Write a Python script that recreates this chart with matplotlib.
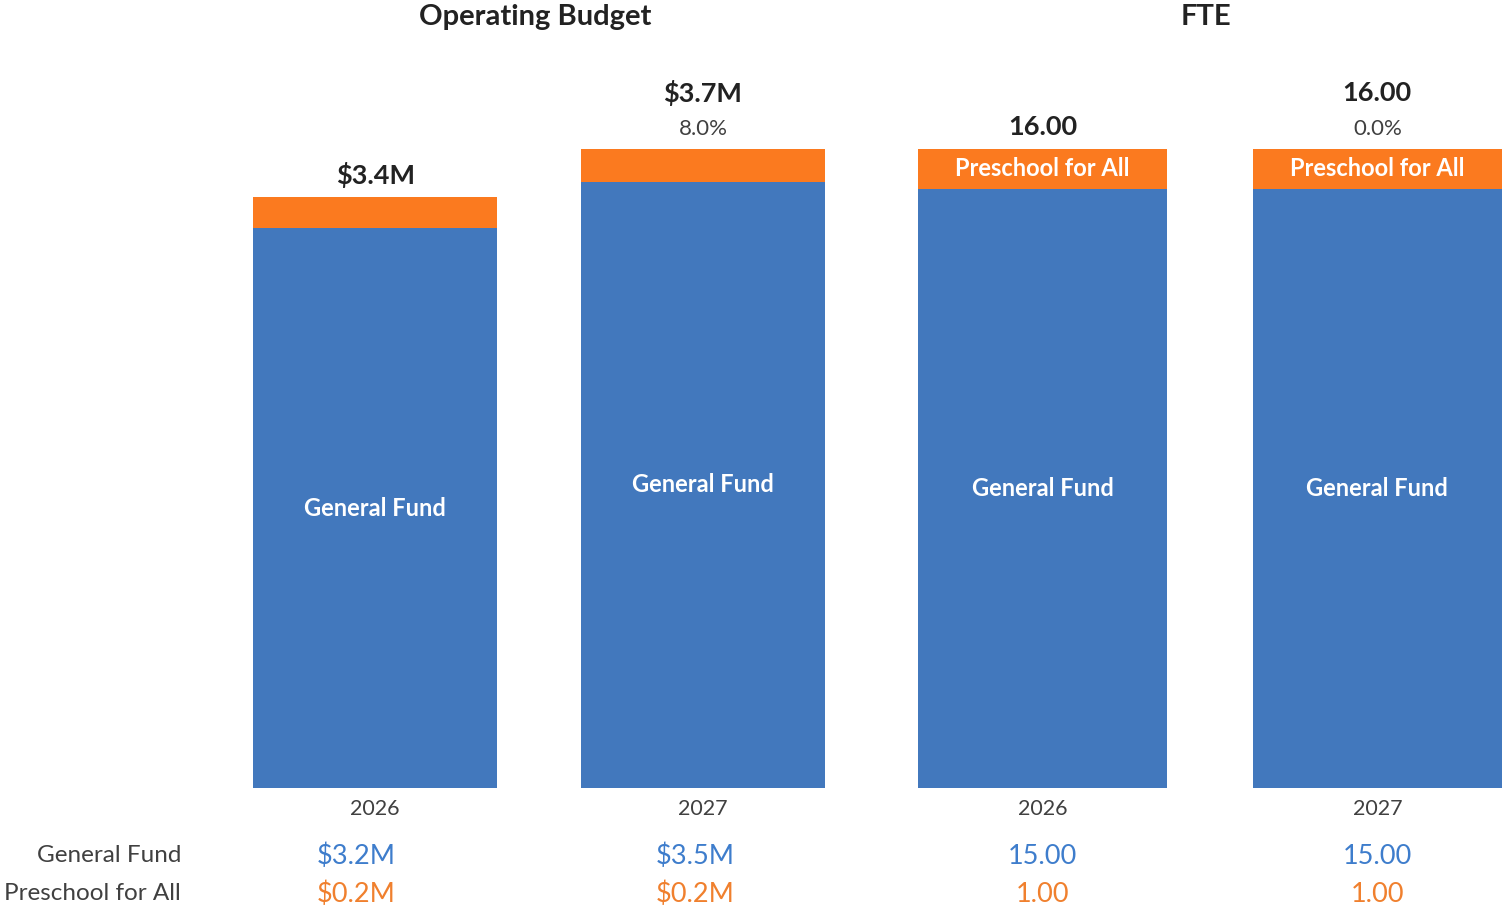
import matplotlib.pyplot as plt

years = ["2026", "2027"]

# Operating budget ($M)
budget_general = [3.24, 3.51]
budget_preschool = [0.18, 0.19]
budget_totals = ["$3.4M", "$3.7M"]
budget_change = [None, "8.0%"]
budget_general_lbl = ["$3.2M", "$3.5M"]
budget_preschool_lbl = ["$0.2M", "$0.2M"]

# FTE
fte_general = [15.0, 15.0]
fte_preschool = [1.0, 1.0]
fte_totals = ["16.00", "16.00"]
fte_change = [None, "0.0%"]
fte_general_lbl = ["15.00", "15.00"]
fte_preschool_lbl = ["1.00", "1.00"]

BLUE = "#4278BD"
ORANGE = "#FB7A1F"
BLUE_TXT = "#3E7DCC"
ORANGE_TXT = "#F0802E"
GRAY = "#404040"

plt.rcParams['font.family'] = ['Lato', 'DejaVu Sans']

W, H = 1503, 909
fig = plt.figure(figsize=(W / 100, H / 100), dpi=100)

def px_axes(x0, x1, y_top, y_bot):
    return fig.add_axes([x0 / W, 1 - y_bot / H, (x1 - x0) / W, (y_bot - y_top) / H])

ax1 = px_axes(253, 825, 149, 788)
ax2 = px_axes(918, 1502, 149, 788)

def draw_panel(ax, general, preschool, totals, change, gen_lbl, pre_lbl,
               ymax, label_pre, val_offsets):
    x = [0, 1]
    width = 0.745
    ax.bar(x, general, width=width, color=BLUE)
    ax.bar(x, preschool, width=width, bottom=general, color=ORANGE)
    ax.set_xlim(-width / 2, 1 + width / 2)
    ax.set_ylim(0, ymax)
    ax.axis('off')

    for i in x:
        top = general[i] + preschool[i]
        ax.text(i, general[i] / 2, "General Fund", ha='center', va='center',
                color='white', fontsize=17, fontweight='bold')
        if label_pre:
            ax.text(i, general[i] + preschool[i] / 2, "Preschool for All",
                    ha='center', va='center', color='white', fontsize=17,
                    fontweight='bold')
        if change[i] is None:
            ax.annotate(totals[i], (i, top), xytext=(0, 16), textcoords='offset points',
                        ha='center', va='center', fontsize=19.5, fontweight='bold',
                        color='#222222')
        else:
            ax.annotate(change[i], (i, top), xytext=(0, 14.4), textcoords='offset points',
                        ha='center', va='center', fontsize=16, color=GRAY)
            ax.annotate(totals[i], (i, top), xytext=(0, 40), textcoords='offset points',
                        ha='center', va='center', fontsize=19.5, fontweight='bold',
                        color='#222222')
        ax.annotate(years[i], (i, 0), xytext=(0, -15), textcoords='offset points',
                    ha='center', va='center', fontsize=15.5, color=GRAY,
                    annotation_clip=False)
        ax.annotate(gen_lbl[i], (i + val_offsets[i], 0), xytext=(0, -49),
                    textcoords='offset points', ha='center', va='center',
                    fontsize=19.5, color=BLUE_TXT, annotation_clip=False)
        ax.annotate(pre_lbl[i], (i + val_offsets[i], 0), xytext=(0, -76.5),
                    textcoords='offset points', ha='center', va='center',
                    fontsize=19.5, color=ORANGE_TXT, annotation_clip=False)

draw_panel(ax1, budget_general, budget_preschool, budget_totals, budget_change,
           budget_general_lbl, budget_preschool_lbl, 3.7, False, [-0.058, -0.024])
draw_panel(ax2, fte_general, fte_preschool, fte_totals, fte_change,
           fte_general_lbl, fte_preschool_lbl, 16.0, True, [0.0, 0.0])

# row labels
fig.text(181 / W, 1 - 856 / H, "General Fund", ha='right', va='center',
         fontsize=17.5, color=GRAY)
fig.text(181 / W, 1 - 893 / H, "Preschool for All", ha='right', va='center',
         fontsize=17.5, color=GRAY)

# panel titles
fig.text(535 / W, 1 - 17 / H, "Operating Budget", ha='center', va='center',
         fontsize=21, fontweight='bold', color='#222222')
fig.text(1206 / W, 1 - 17 / H, "FTE", ha='center', va='center',
         fontsize=21, fontweight='bold', color='#222222')

fig.savefig("out.png", dpi=100)
